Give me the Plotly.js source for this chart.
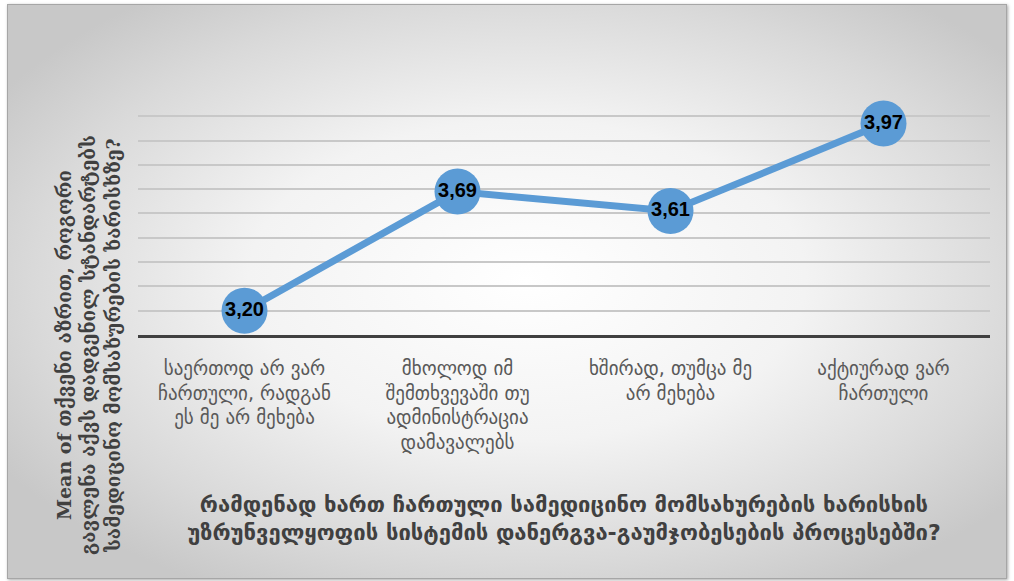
<!DOCTYPE html>
<html>
<head>
<meta charset="utf-8">
<script src="https://cdn.plot.ly/plotly-3.0.1.min.js"></script>
<style>
  html, body { margin: 0; padding: 0; background: #ffffff; }
  #frame {
    position: absolute; left: 7px; top: 4px; width: 1000px; height: 575px;
    border: 1px solid #a6a6a6; box-sizing: border-box;
    background: radial-gradient(ellipse 62% 62% at 52% 48%, #ffffff 0%, #f3f3f3 45%, #d9d9d9 80%, #c8c8c8 100%);
    box-shadow: 1px 1px 3px rgba(0,0,0,0.35);
  }
  #chart { position: absolute; left: 0; top: 0; width: 1014px; height: 581px; }
</style>
</head>
<body>
<div id="frame"></div>
<div id="chart"></div>
<script>
const categories = [
  "საერთოდ არ ვარ<br>ჩართული, რადგან<br>ეს მე არ მეხება",
  "მხოლოდ იმ<br>შემთხვევაში თუ<br>ადმინისტრაცია<br>დამავალებს",
  "ხშირად, თუმცა მე<br>არ მეხება",
  "აქტიურად ვარ<br>ჩართული"
];
const meanValues = [3.20, 3.69, 3.61, 3.97];
const valueLabels = meanValues.map(v => v.toFixed(2).replace('.', ','));
const xTitle = "რამდენად ხართ ჩართული სამედიცინო მომსახურების ხარისხის<br>უზრუნველყოფის სისტემის დანერგვა-გაუმჯობესების პროცესებში?";
const yTitle = "Mean of თქვენი აზრით, როგორი<br>გავლენა აქვს დადგენილ სტანდარტებს<br>სამედიცინო მომსახურების ხარისხზე?";

const trace = {
  x: categories,
  y: meanValues,
  type: 'scatter',
  mode: 'lines+markers+text',
  line: { color: '#5b9bd5', width: 7 },
  marker: { color: '#5b9bd5', size: 46, line: { width: 0 } },
  text: valueLabels,
  textposition: 'middle center',
  textfont: { family: 'Liberation Sans Narrow, Liberation Sans, Arial', size: 20, color: '#000000', weight: 'bold' },
  cliponaxis: false,
  hoverinfo: 'x+y'
};

const layout = {
  width: 1014, height: 581,
  paper_bgcolor: 'rgba(0,0,0,0)',
  plot_bgcolor: 'rgba(0,0,0,0)',
  margin: { l: 138, r: 24, t: 109, b: 246 },
  showlegend: false,
  font: { family: 'DejaVu Sans, Noto Sans', color: '#595959' },
  xaxis: {
    type: 'category',
    range: [-0.5, 3.5],
    showgrid: false,
    zeroline: false,
    showline: true,
    linecolor: '#404040',
    linewidth: 3,
    ticks: '',
    tickangle: 0,
    ticklabelstandoff: 14,
    tickfont: { family: 'DejaVu Sans, Noto Sans', size: 19, color: '#595959' },
    title: {
      text: xTitle,
      font: { family: 'DejaVu Sans, Noto Sans', size: 22, color: '#404040', weight: 'bold' },
      standoff: 44
    }
  },
  yaxis: {
    range: [3.1, 4.03],
    tick0: 3.1,
    dtick: 0.1,
    showticklabels: false,
    showgrid: true,
    gridcolor: '#c8c8c8',
    gridwidth: 2,
    zeroline: false,
    showline: false,
    ticks: ''
  },
  annotations: [{
    text: yTitle,
    xref: 'paper', yref: 'paper',
    x: -0.059, y: -0.045,
    xanchor: 'center', yanchor: 'middle',
    textangle: -90,
    showarrow: false,
    font: { family: 'DejaVu Serif, DejaVu Sans', size: 19, color: '#404040', weight: 'bold' }
  }]
};

Plotly.newPlot('chart', [trace], layout, { displayModeBar: false });
</script>
</body>
</html>
